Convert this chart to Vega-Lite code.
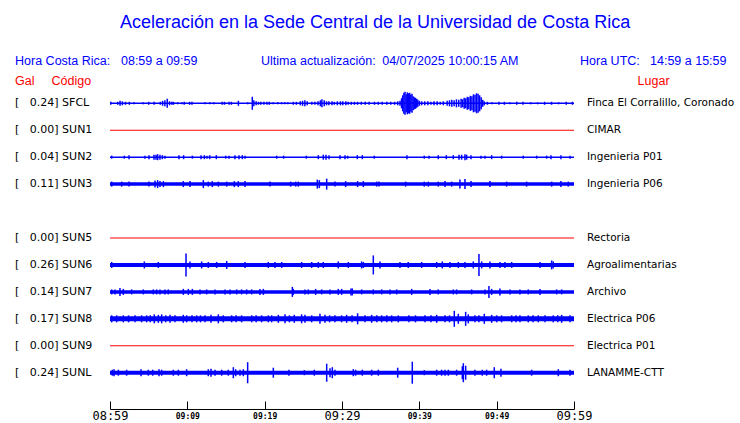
{
  "$schema": "https://vega.github.io/schema/vega-lite/v6.json",
  "width": 464,
  "height": 409,
  "autosize": {"type": "none"},
  "padding": {"left": 110, "right": 166, "top": 0, "bottom": 14},
  "background": "white",
  "config": {"view": {"stroke": null}, "font": "Liberation Sans"},
  "datasets": {
    "estaciones": [
      {"est": "SFCL", "fila": 0, "gal": 0.24, "lugar": "Finca El Corralillo, Coronado", "ruido": 0.6},
      {"est": "SUN1", "fila": 1, "gal": 0.00, "lugar": "CIMAR", "ruido": 0},
      {"est": "SUN2", "fila": 2, "gal": 0.04, "lugar": "Ingenieria P01", "ruido": 0.5},
      {"est": "SUN3", "fila": 3, "gal": 0.11, "lugar": "Ingenieria P06", "ruido": 2.5},
      {"est": "SUN5", "fila": 5, "gal": 0.00, "lugar": "Rectoria", "ruido": 0},
      {"est": "SUN6", "fila": 6, "gal": 0.26, "lugar": "Agroalimentarias", "ruido": 3},
      {"est": "SUN7", "fila": 7, "gal": 0.14, "lugar": "Archivo", "ruido": 2.5},
      {"est": "SUN8", "fila": 8, "gal": 0.17, "lugar": "Electrica P06", "ruido": 4},
      {"est": "SUN9", "fila": 9, "gal": 0.00, "lugar": "Electrica P01", "ruido": 0},
      {"est": "SUNL", "fila": 10, "gal": 0.24, "lugar": "LANAMME-CTT", "ruido": 3}
    ],
    "eventos": [
      {"est": "SFCL", "min": 0.1, "amp": 3}, {"est": "SFCL", "min": 1.0, "amp": 3}, {"est": "SFCL", "min": 1.3, "amp": 5}, {"est": "SFCL", "min": 1.6, "amp": 4},
      {"est": "SFCL", "min": 2.0, "amp": 3}, {"est": "SFCL", "min": 2.5, "amp": 3}, {"est": "SFCL", "min": 3.1, "amp": 2}, {"est": "SFCL", "min": 4.3, "amp": 2},
      {"est": "SFCL", "min": 5.0, "amp": 3}, {"est": "SFCL", "min": 5.7, "amp": 3}, {"est": "SFCL", "min": 6.5, "amp": 3}, {"est": "SFCL", "min": 6.8, "amp": 5},
      {"est": "SFCL", "min": 7.1, "amp": 6}, {"est": "SFCL", "min": 7.4, "amp": 9}, {"est": "SFCL", "min": 7.7, "amp": 4}, {"est": "SFCL", "min": 8.0, "amp": 3},
      {"est": "SFCL", "min": 8.2, "amp": 3}, {"est": "SFCL", "min": 8.75, "amp": 2}, {"est": "SFCL", "min": 9.3, "amp": 2}, {"est": "SFCL", "min": 9.6, "amp": 3},
      {"est": "SFCL", "min": 10.3, "amp": 3}, {"est": "SFCL", "min": 10.6, "amp": 3}, {"est": "SFCL", "min": 12.3, "amp": 2}, {"est": "SFCL", "min": 12.9, "amp": 2},
      {"est": "SFCL", "min": 13.4, "amp": 2}, {"est": "SFCL", "min": 14.5, "amp": 3}, {"est": "SFCL", "min": 14.8, "amp": 3}, {"est": "SFCL", "min": 15.4, "amp": 3},
      {"est": "SFCL", "min": 15.7, "amp": 3}, {"est": "SFCL", "min": 16.6, "amp": 5}, {"est": "SFCL", "min": 17.8, "amp": 2}, {"est": "SFCL", "min": 18.4, "amp": 13},
      {"est": "SFCL", "min": 18.6, "amp": 6}, {"est": "SFCL", "min": 18.9, "amp": 4}, {"est": "SFCL", "min": 19.2, "amp": 3}, {"est": "SFCL", "min": 19.5, "amp": 3},
      {"est": "SFCL", "min": 19.9, "amp": 3}, {"est": "SFCL", "min": 20.3, "amp": 3}, {"est": "SFCL", "min": 20.6, "amp": 3}, {"est": "SFCL", "min": 21.1, "amp": 2},
      {"est": "SFCL", "min": 21.7, "amp": 2}, {"est": "SFCL", "min": 22.2, "amp": 2}, {"est": "SFCL", "min": 22.6, "amp": 2}, {"est": "SFCL", "min": 23.0, "amp": 2},
      {"est": "SFCL", "min": 23.7, "amp": 3}, {"est": "SFCL", "min": 24.1, "amp": 3}, {"est": "SFCL", "min": 24.6, "amp": 4}, {"est": "SFCL", "min": 24.9, "amp": 5},
      {"est": "SFCL", "min": 25.2, "amp": 6}, {"est": "SFCL", "min": 25.5, "amp": 4}, {"est": "SFCL", "min": 26.1, "amp": 3}, {"est": "SFCL", "min": 26.5, "amp": 3},
      {"est": "SFCL", "min": 26.9, "amp": 4}, {"est": "SFCL", "min": 27.2, "amp": 6}, {"est": "SFCL", "min": 27.4, "amp": 8}, {"est": "SFCL", "min": 27.7, "amp": 6},
      {"est": "SFCL", "min": 28.0, "amp": 4}, {"est": "SFCL", "min": 28.3, "amp": 4}, {"est": "SFCL", "min": 28.7, "amp": 4}, {"est": "SFCL", "min": 29.0, "amp": 3},
      {"est": "SFCL", "min": 29.4, "amp": 4}, {"est": "SFCL", "min": 29.8, "amp": 4}, {"est": "SFCL", "min": 30.1, "amp": 4}, {"est": "SFCL", "min": 30.5, "amp": 4},
      {"est": "SFCL", "min": 30.8, "amp": 3}, {"est": "SFCL", "min": 31.2, "amp": 3}, {"est": "SFCL", "min": 31.6, "amp": 3}, {"est": "SFCL", "min": 32.0, "amp": 3},
      {"est": "SFCL", "min": 32.5, "amp": 3}, {"est": "SFCL", "min": 33.0, "amp": 3}, {"est": "SFCL", "min": 33.5, "amp": 3}, {"est": "SFCL", "min": 34.2, "amp": 3},
      {"est": "SFCL", "min": 34.7, "amp": 3}, {"est": "SFCL", "min": 35.2, "amp": 3}, {"est": "SFCL", "min": 35.8, "amp": 3}, {"est": "SFCL", "min": 36.3, "amp": 3},
      {"est": "SFCL", "min": 36.8, "amp": 3}, {"est": "SFCL", "min": 37.2, "amp": 4}, {"est": "SFCL", "min": 37.5, "amp": 5}, {"est": "SFCL", "min": 37.7, "amp": 10},
      {"est": "SFCL", "min": 37.85, "amp": 16}, {"est": "SFCL", "min": 38.0, "amp": 21}, {"est": "SFCL", "min": 38.15, "amp": 23}, {"est": "SFCL", "min": 38.3, "amp": 18},
      {"est": "SFCL", "min": 38.45, "amp": 22}, {"est": "SFCL", "min": 38.6, "amp": 20}, {"est": "SFCL", "min": 38.75, "amp": 21}, {"est": "SFCL", "min": 38.9, "amp": 17},
      {"est": "SFCL", "min": 39.05, "amp": 19}, {"est": "SFCL", "min": 39.2, "amp": 14}, {"est": "SFCL", "min": 39.35, "amp": 12}, {"est": "SFCL", "min": 39.5, "amp": 11},
      {"est": "SFCL", "min": 39.65, "amp": 9}, {"est": "SFCL", "min": 39.8, "amp": 7}, {"est": "SFCL", "min": 40.0, "amp": 5}, {"est": "SFCL", "min": 40.3, "amp": 4},
      {"est": "SFCL", "min": 40.7, "amp": 4}, {"est": "SFCL", "min": 41.1, "amp": 4}, {"est": "SFCL", "min": 41.5, "amp": 3}, {"est": "SFCL", "min": 41.9, "amp": 4},
      {"est": "SFCL", "min": 42.3, "amp": 4}, {"est": "SFCL", "min": 42.7, "amp": 3}, {"est": "SFCL", "min": 43.1, "amp": 4}, {"est": "SFCL", "min": 43.6, "amp": 5},
      {"est": "SFCL", "min": 43.9, "amp": 6}, {"est": "SFCL", "min": 44.2, "amp": 7}, {"est": "SFCL", "min": 44.5, "amp": 6}, {"est": "SFCL", "min": 44.8, "amp": 8},
      {"est": "SFCL", "min": 45.1, "amp": 7}, {"est": "SFCL", "min": 45.4, "amp": 9}, {"est": "SFCL", "min": 45.6, "amp": 8}, {"est": "SFCL", "min": 45.8, "amp": 11},
      {"est": "SFCL", "min": 46.0, "amp": 10}, {"est": "SFCL", "min": 46.2, "amp": 13}, {"est": "SFCL", "min": 46.4, "amp": 12}, {"est": "SFCL", "min": 46.6, "amp": 15},
      {"est": "SFCL", "min": 46.8, "amp": 14}, {"est": "SFCL", "min": 47.0, "amp": 18}, {"est": "SFCL", "min": 47.2, "amp": 17}, {"est": "SFCL", "min": 47.4, "amp": 20},
      {"est": "SFCL", "min": 47.6, "amp": 19}, {"est": "SFCL", "min": 47.8, "amp": 16}, {"est": "SFCL", "min": 48.0, "amp": 12}, {"est": "SFCL", "min": 48.2, "amp": 7},
      {"est": "SFCL", "min": 48.4, "amp": 4}, {"est": "SFCL", "min": 48.8, "amp": 3}, {"est": "SFCL", "min": 49.4, "amp": 2}, {"est": "SFCL", "min": 50.3, "amp": 3},
      {"est": "SFCL", "min": 51.0, "amp": 3}, {"est": "SFCL", "min": 51.7, "amp": 2}, {"est": "SFCL", "min": 52.6, "amp": 3}, {"est": "SFCL", "min": 53.4, "amp": 3},
      {"est": "SFCL", "min": 54.4, "amp": 2}, {"est": "SFCL", "min": 55.3, "amp": 2}, {"est": "SFCL", "min": 56.2, "amp": 3}, {"est": "SFCL", "min": 57.1, "amp": 3},
      {"est": "SFCL", "min": 58.0, "amp": 2}, {"est": "SFCL", "min": 59.0, "amp": 3}, {"est": "SFCL", "min": 59.8, "amp": 3},

      {"est": "SUN2", "min": 0.22, "amp": 3}, {"est": "SUN2", "min": 1.85, "amp": 3}, {"est": "SUN2", "min": 2.46, "amp": 4}, {"est": "SUN2", "min": 4.52, "amp": 3},
      {"est": "SUN2", "min": 5.04, "amp": 4}, {"est": "SUN2", "min": 5.69, "amp": 5}, {"est": "SUN2", "min": 5.95, "amp": 5}, {"est": "SUN2", "min": 6.16, "amp": 6},
      {"est": "SUN2", "min": 6.46, "amp": 5}, {"est": "SUN2", "min": 6.77, "amp": 4}, {"est": "SUN2", "min": 7.11, "amp": 3}, {"est": "SUN2", "min": 8.92, "amp": 4},
      {"est": "SUN2", "min": 9.52, "amp": 4}, {"est": "SUN2", "min": 10.65, "amp": 3}, {"est": "SUN2", "min": 11.77, "amp": 4}, {"est": "SUN2", "min": 12.2, "amp": 4},
      {"est": "SUN2", "min": 12.54, "amp": 3}, {"est": "SUN2", "min": 12.89, "amp": 4}, {"est": "SUN2", "min": 13.75, "amp": 4}, {"est": "SUN2", "min": 14.96, "amp": 3},
      {"est": "SUN2", "min": 15.39, "amp": 3}, {"est": "SUN2", "min": 16.16, "amp": 4}, {"est": "SUN2", "min": 16.68, "amp": 4}, {"est": "SUN2", "min": 17.11, "amp": 4},
      {"est": "SUN2", "min": 17.46, "amp": 3}, {"est": "SUN2", "min": 21.55, "amp": 3}, {"est": "SUN2", "min": 22.45, "amp": 3}, {"est": "SUN2", "min": 25.39, "amp": 3},
      {"est": "SUN2", "min": 26.94, "amp": 4}, {"est": "SUN2", "min": 27.58, "amp": 5}, {"est": "SUN2", "min": 27.93, "amp": 5}, {"est": "SUN2", "min": 28.32, "amp": 4},
      {"est": "SUN2", "min": 29.74, "amp": 4}, {"est": "SUN2", "min": 30.39, "amp": 4}, {"est": "SUN2", "min": 30.73, "amp": 3}, {"est": "SUN2", "min": 31.98, "amp": 4},
      {"est": "SUN2", "min": 32.63, "amp": 4}, {"est": "SUN2", "min": 34.18, "amp": 3}, {"est": "SUN2", "min": 38.4, "amp": 4}, {"est": "SUN2", "min": 40.64, "amp": 3},
      {"est": "SUN2", "min": 41.25, "amp": 3}, {"est": "SUN2", "min": 42.45, "amp": 4}, {"est": "SUN2", "min": 43.49, "amp": 4}, {"est": "SUN2", "min": 44.39, "amp": 4},
      {"est": "SUN2", "min": 45.13, "amp": 5}, {"est": "SUN2", "min": 45.47, "amp": 5}, {"est": "SUN2", "min": 45.9, "amp": 6}, {"est": "SUN2", "min": 46.12, "amp": 5},
      {"est": "SUN2", "min": 46.68, "amp": 4}, {"est": "SUN2", "min": 47.97, "amp": 3}, {"est": "SUN2", "min": 48.49, "amp": 3}, {"est": "SUN2", "min": 49.35, "amp": 4},
      {"est": "SUN2", "min": 50.64, "amp": 3}, {"est": "SUN2", "min": 53.44, "amp": 3}, {"est": "SUN2", "min": 55.17, "amp": 3}, {"est": "SUN2", "min": 56.46, "amp": 3},
      {"est": "SUN2", "min": 57.02, "amp": 4}, {"est": "SUN2", "min": 58.31, "amp": 4}, {"est": "SUN2", "min": 59.48, "amp": 3},

      {"est": "SUN3", "min": 0.22, "amp": 5}, {"est": "SUN3", "min": 1.51, "amp": 5}, {"est": "SUN3", "min": 2.46, "amp": 5}, {"est": "SUN3", "min": 5.04, "amp": 5},
      {"est": "SUN3", "min": 5.82, "amp": 7}, {"est": "SUN3", "min": 6.16, "amp": 8}, {"est": "SUN3", "min": 6.46, "amp": 6}, {"est": "SUN3", "min": 6.9, "amp": 6},
      {"est": "SUN3", "min": 9.48, "amp": 6}, {"est": "SUN3", "min": 10.34, "amp": 6}, {"est": "SUN3", "min": 12.07, "amp": 8}, {"est": "SUN3", "min": 12.71, "amp": 5},
      {"est": "SUN3", "min": 13.23, "amp": 6}, {"est": "SUN3", "min": 14.01, "amp": 5}, {"est": "SUN3", "min": 15.09, "amp": 5}, {"est": "SUN3", "min": 16.08, "amp": 6},
      {"est": "SUN3", "min": 16.59, "amp": 6}, {"est": "SUN3", "min": 17.46, "amp": 6}, {"est": "SUN3", "min": 20.69, "amp": 5}, {"est": "SUN3", "min": 23.36, "amp": 5},
      {"est": "SUN3", "min": 24.01, "amp": 5}, {"est": "SUN3", "min": 24.35, "amp": 5}, {"est": "SUN3", "min": 26.81, "amp": 9}, {"est": "SUN3", "min": 27.07, "amp": 8},
      {"est": "SUN3", "min": 28.02, "amp": 11}, {"est": "SUN3", "min": 29.09, "amp": 5}, {"est": "SUN3", "min": 30.47, "amp": 6}, {"est": "SUN3", "min": 32.02, "amp": 6},
      {"est": "SUN3", "min": 32.76, "amp": 6}, {"est": "SUN3", "min": 34.48, "amp": 5}, {"est": "SUN3", "min": 34.78, "amp": 5}, {"est": "SUN3", "min": 38.23, "amp": 5},
      {"est": "SUN3", "min": 40.64, "amp": 5}, {"est": "SUN3", "min": 41.16, "amp": 5}, {"est": "SUN3", "min": 42.45, "amp": 5}, {"est": "SUN3", "min": 43.32, "amp": 6},
      {"est": "SUN3", "min": 44.18, "amp": 5}, {"est": "SUN3", "min": 45.25, "amp": 9}, {"est": "SUN3", "min": 45.9, "amp": 10}, {"est": "SUN3", "min": 46.68, "amp": 6},
      {"est": "SUN3", "min": 49.13, "amp": 6}, {"est": "SUN3", "min": 51.29, "amp": 5}, {"est": "SUN3", "min": 53.87, "amp": 5}, {"est": "SUN3", "min": 57.11, "amp": 5},
      {"est": "SUN3", "min": 58.31, "amp": 6}, {"est": "SUN3", "min": 59.26, "amp": 5},

      {"est": "SUN6", "min": 0.22, "amp": 6}, {"est": "SUN6", "min": 4.44, "amp": 7}, {"est": "SUN6", "min": 6.25, "amp": 6}, {"est": "SUN6", "min": 9.83, "amp": 23},
      {"est": "SUN6", "min": 10.34, "amp": 7}, {"est": "SUN6", "min": 11.85, "amp": 7}, {"est": "SUN6", "min": 12.71, "amp": 6}, {"est": "SUN6", "min": 13.79, "amp": 6},
      {"est": "SUN6", "min": 15.09, "amp": 8}, {"est": "SUN6", "min": 17.46, "amp": 6}, {"est": "SUN6", "min": 20.47, "amp": 6}, {"est": "SUN6", "min": 21.33, "amp": 6},
      {"est": "SUN6", "min": 22.2, "amp": 6}, {"est": "SUN6", "min": 24.78, "amp": 6}, {"est": "SUN6", "min": 26.08, "amp": 6}, {"est": "SUN6", "min": 26.94, "amp": 6},
      {"est": "SUN6", "min": 27.58, "amp": 6}, {"est": "SUN6", "min": 29.52, "amp": 7}, {"est": "SUN6", "min": 30.82, "amp": 6}, {"est": "SUN6", "min": 32.54, "amp": 7},
      {"est": "SUN6", "min": 32.76, "amp": 6}, {"est": "SUN6", "min": 34.05, "amp": 19}, {"est": "SUN6", "min": 34.91, "amp": 7}, {"est": "SUN6", "min": 37.5, "amp": 6},
      {"est": "SUN6", "min": 38.57, "amp": 6}, {"est": "SUN6", "min": 40.3, "amp": 6}, {"est": "SUN6", "min": 42.24, "amp": 6}, {"est": "SUN6", "min": 42.97, "amp": 7},
      {"est": "SUN6", "min": 43.96, "amp": 6}, {"est": "SUN6", "min": 45.04, "amp": 6}, {"est": "SUN6", "min": 45.9, "amp": 6}, {"est": "SUN6", "min": 46.98, "amp": 7},
      {"est": "SUN6", "min": 47.71, "amp": 22}, {"est": "SUN6", "min": 48.06, "amp": 7}, {"est": "SUN6", "min": 49.13, "amp": 7}, {"est": "SUN6", "min": 50.42, "amp": 6},
      {"est": "SUN6", "min": 51.07, "amp": 6}, {"est": "SUN6", "min": 51.94, "amp": 6}, {"est": "SUN6", "min": 55.6, "amp": 6}, {"est": "SUN6", "min": 57.11, "amp": 9},
      {"est": "SUN6", "min": 57.32, "amp": 7},

      {"est": "SUN7", "min": 0.22, "amp": 5}, {"est": "SUN7", "min": 0.65, "amp": 5}, {"est": "SUN7", "min": 1.29, "amp": 8}, {"est": "SUN7", "min": 1.72, "amp": 6},
      {"est": "SUN7", "min": 2.8, "amp": 5}, {"est": "SUN7", "min": 4.31, "amp": 5}, {"est": "SUN7", "min": 5.6, "amp": 5}, {"est": "SUN7", "min": 6.03, "amp": 5},
      {"est": "SUN7", "min": 6.46, "amp": 5}, {"est": "SUN7", "min": 7.11, "amp": 5}, {"est": "SUN7", "min": 7.54, "amp": 5}, {"est": "SUN7", "min": 9.48, "amp": 6},
      {"est": "SUN7", "min": 10.13, "amp": 6}, {"est": "SUN7", "min": 10.65, "amp": 6}, {"est": "SUN7", "min": 11.64, "amp": 5}, {"est": "SUN7", "min": 12.5, "amp": 5},
      {"est": "SUN7", "min": 13.58, "amp": 5}, {"est": "SUN7", "min": 14.87, "amp": 5}, {"est": "SUN7", "min": 15.52, "amp": 5}, {"est": "SUN7", "min": 16.38, "amp": 5},
      {"est": "SUN7", "min": 17.02, "amp": 5}, {"est": "SUN7", "min": 17.67, "amp": 5}, {"est": "SUN7", "min": 18.32, "amp": 5}, {"est": "SUN7", "min": 19.39, "amp": 6},
      {"est": "SUN7", "min": 19.83, "amp": 6}, {"est": "SUN7", "min": 23.58, "amp": 10}, {"est": "SUN7", "min": 23.7, "amp": 6}, {"est": "SUN7", "min": 25.21, "amp": 5},
      {"est": "SUN7", "min": 25.64, "amp": 5}, {"est": "SUN7", "min": 26.59, "amp": 6}, {"est": "SUN7", "min": 27.37, "amp": 5}, {"est": "SUN7", "min": 28.45, "amp": 5},
      {"est": "SUN7", "min": 29.52, "amp": 6}, {"est": "SUN7", "min": 29.95, "amp": 6}, {"est": "SUN7", "min": 31.16, "amp": 7}, {"est": "SUN7", "min": 31.33, "amp": 7},
      {"est": "SUN7", "min": 32.54, "amp": 5}, {"est": "SUN7", "min": 34.05, "amp": 5}, {"est": "SUN7", "min": 35.13, "amp": 5}, {"est": "SUN7", "min": 36.2, "amp": 5},
      {"est": "SUN7", "min": 37.07, "amp": 5}, {"est": "SUN7", "min": 39.01, "amp": 6}, {"est": "SUN7", "min": 41.38, "amp": 6}, {"est": "SUN7", "min": 42.45, "amp": 5},
      {"est": "SUN7", "min": 44.39, "amp": 5}, {"est": "SUN7", "min": 44.82, "amp": 5}, {"est": "SUN7", "min": 46.76, "amp": 5}, {"est": "SUN7", "min": 48.49, "amp": 5},
      {"est": "SUN7", "min": 49.0, "amp": 12}, {"est": "SUN7", "min": 49.35, "amp": 6}, {"est": "SUN7", "min": 50.42, "amp": 7}, {"est": "SUN7", "min": 51.72, "amp": 5},
      {"est": "SUN7", "min": 53.01, "amp": 5}, {"est": "SUN7", "min": 54.09, "amp": 5}, {"est": "SUN7", "min": 55.6, "amp": 6}, {"est": "SUN7", "min": 57.75, "amp": 5},
      {"est": "SUN7", "min": 58.4, "amp": 5},

      {"est": "SUN8", "min": 0.22, "amp": 7}, {"est": "SUN8", "min": 0.86, "amp": 7}, {"est": "SUN8", "min": 1.72, "amp": 7}, {"est": "SUN8", "min": 2.4, "amp": 7},
      {"est": "SUN8", "min": 3.23, "amp": 7}, {"est": "SUN8", "min": 4.09, "amp": 7}, {"est": "SUN8", "min": 4.74, "amp": 7}, {"est": "SUN8", "min": 5.2, "amp": 7},
      {"est": "SUN8", "min": 5.73, "amp": 9}, {"est": "SUN8", "min": 6.25, "amp": 8}, {"est": "SUN8", "min": 6.68, "amp": 9}, {"est": "SUN8", "min": 7.2, "amp": 7},
      {"est": "SUN8", "min": 7.76, "amp": 8}, {"est": "SUN8", "min": 8.4, "amp": 7}, {"est": "SUN8", "min": 9.48, "amp": 8}, {"est": "SUN8", "min": 9.91, "amp": 7},
      {"est": "SUN8", "min": 10.6, "amp": 7}, {"est": "SUN8", "min": 11.21, "amp": 7}, {"est": "SUN8", "min": 11.7, "amp": 7}, {"est": "SUN8", "min": 12.28, "amp": 7},
      {"est": "SUN8", "min": 13.06, "amp": 8}, {"est": "SUN8", "min": 14.01, "amp": 9}, {"est": "SUN8", "min": 14.65, "amp": 7}, {"est": "SUN8", "min": 15.73, "amp": 7},
      {"est": "SUN8", "min": 16.3, "amp": 7}, {"est": "SUN8", "min": 17.02, "amp": 7}, {"est": "SUN8", "min": 18.32, "amp": 7}, {"est": "SUN8", "min": 18.9, "amp": 7},
      {"est": "SUN8", "min": 19.61, "amp": 7}, {"est": "SUN8", "min": 20.47, "amp": 7}, {"est": "SUN8", "min": 20.9, "amp": 7}, {"est": "SUN8", "min": 21.77, "amp": 8},
      {"est": "SUN8", "min": 22.63, "amp": 9}, {"est": "SUN8", "min": 23.2, "amp": 7}, {"est": "SUN8", "min": 23.83, "amp": 8}, {"est": "SUN8", "min": 24.78, "amp": 9},
      {"est": "SUN8", "min": 25.21, "amp": 8}, {"est": "SUN8", "min": 26.08, "amp": 7}, {"est": "SUN8", "min": 27.15, "amp": 10}, {"est": "SUN8", "min": 27.8, "amp": 8},
      {"est": "SUN8", "min": 28.4, "amp": 7}, {"est": "SUN8", "min": 29.09, "amp": 7}, {"est": "SUN8", "min": 29.95, "amp": 7}, {"est": "SUN8", "min": 30.6, "amp": 8},
      {"est": "SUN8", "min": 31.3, "amp": 7}, {"est": "SUN8", "min": 32.02, "amp": 11}, {"est": "SUN8", "min": 32.97, "amp": 7}, {"est": "SUN8", "min": 33.83, "amp": 8},
      {"est": "SUN8", "min": 34.5, "amp": 7}, {"est": "SUN8", "min": 35.13, "amp": 7}, {"est": "SUN8", "min": 35.8, "amp": 7}, {"est": "SUN8", "min": 36.42, "amp": 7},
      {"est": "SUN8", "min": 37.28, "amp": 7}, {"est": "SUN8", "min": 38.66, "amp": 7}, {"est": "SUN8", "min": 39.5, "amp": 7}, {"est": "SUN8", "min": 40.73, "amp": 7},
      {"est": "SUN8", "min": 41.5, "amp": 7}, {"est": "SUN8", "min": 42.24, "amp": 8}, {"est": "SUN8", "min": 43.32, "amp": 7}, {"est": "SUN8", "min": 43.9, "amp": 7},
      {"est": "SUN8", "min": 44.52, "amp": 16}, {"est": "SUN8", "min": 45.04, "amp": 10}, {"est": "SUN8", "min": 45.99, "amp": 14}, {"est": "SUN8", "min": 46.33, "amp": 9},
      {"est": "SUN8", "min": 47.19, "amp": 7}, {"est": "SUN8", "min": 47.7, "amp": 7}, {"est": "SUN8", "min": 48.4, "amp": 10}, {"est": "SUN8", "min": 49.35, "amp": 8},
      {"est": "SUN8", "min": 50.0, "amp": 7}, {"est": "SUN8", "min": 50.64, "amp": 7}, {"est": "SUN8", "min": 51.94, "amp": 7}, {"est": "SUN8", "min": 52.5, "amp": 7},
      {"est": "SUN8", "min": 53.01, "amp": 7}, {"est": "SUN8", "min": 54.09, "amp": 7}, {"est": "SUN8", "min": 54.7, "amp": 7}, {"est": "SUN8", "min": 55.38, "amp": 7},
      {"est": "SUN8", "min": 56.25, "amp": 7}, {"est": "SUN8", "min": 57.32, "amp": 7}, {"est": "SUN8", "min": 57.9, "amp": 7}, {"est": "SUN8", "min": 58.4, "amp": 8},
      {"est": "SUN8", "min": 59.48, "amp": 7},

      {"est": "SUNL", "min": 0.3, "amp": 6}, {"est": "SUNL", "min": 0.52, "amp": 7}, {"est": "SUNL", "min": 1.08, "amp": 6}, {"est": "SUNL", "min": 2.15, "amp": 6},
      {"est": "SUNL", "min": 4.01, "amp": 7}, {"est": "SUNL", "min": 4.96, "amp": 6}, {"est": "SUNL", "min": 5.52, "amp": 6}, {"est": "SUNL", "min": 6.34, "amp": 7},
      {"est": "SUNL", "min": 6.68, "amp": 6}, {"est": "SUNL", "min": 8.19, "amp": 6}, {"est": "SUNL", "min": 8.84, "amp": 6}, {"est": "SUNL", "min": 9.91, "amp": 7},
      {"est": "SUNL", "min": 12.71, "amp": 7}, {"est": "SUNL", "min": 13.06, "amp": 8}, {"est": "SUNL", "min": 13.58, "amp": 6}, {"est": "SUNL", "min": 14.44, "amp": 6},
      {"est": "SUNL", "min": 15.3, "amp": 6}, {"est": "SUNL", "min": 15.95, "amp": 11}, {"est": "SUNL", "min": 16.25, "amp": 7}, {"est": "SUNL", "min": 16.81, "amp": 6},
      {"est": "SUNL", "min": 17.24, "amp": 7}, {"est": "SUNL", "min": 17.8, "amp": 21}, {"est": "SUNL", "min": 21.12, "amp": 10}, {"est": "SUNL", "min": 23.14, "amp": 6},
      {"est": "SUNL", "min": 25.13, "amp": 5}, {"est": "SUNL", "min": 26.42, "amp": 6}, {"est": "SUNL", "min": 28.02, "amp": 18}, {"est": "SUNL", "min": 28.45, "amp": 9},
      {"est": "SUNL", "min": 28.75, "amp": 11}, {"est": "SUNL", "min": 29.09, "amp": 6}, {"est": "SUNL", "min": 31.46, "amp": 7}, {"est": "SUNL", "min": 31.76, "amp": 6},
      {"est": "SUNL", "min": 32.63, "amp": 6}, {"est": "SUNL", "min": 33.83, "amp": 6}, {"est": "SUNL", "min": 34.7, "amp": 6}, {"est": "SUNL", "min": 37.2, "amp": 10},
      {"est": "SUNL", "min": 39.09, "amp": 22}, {"est": "SUNL", "min": 40.64, "amp": 5}, {"est": "SUNL", "min": 42.24, "amp": 6}, {"est": "SUNL", "min": 42.88, "amp": 6},
      {"est": "SUNL", "min": 43.32, "amp": 6}, {"est": "SUNL", "min": 43.75, "amp": 6}, {"est": "SUNL", "min": 44.82, "amp": 6}, {"est": "SUNL", "min": 45.56, "amp": 13},
      {"est": "SUNL", "min": 45.69, "amp": 19}, {"est": "SUNL", "min": 45.99, "amp": 14}, {"est": "SUNL", "min": 47.19, "amp": 6}, {"est": "SUNL", "min": 48.14, "amp": 6},
      {"est": "SUNL", "min": 48.7, "amp": 6}, {"est": "SUNL", "min": 49.69, "amp": 11}, {"est": "SUNL", "min": 50.55, "amp": 8}, {"est": "SUNL", "min": 54.52, "amp": 6},
      {"est": "SUNL", "min": 57.97, "amp": 7}, {"est": "SUNL", "min": 59.48, "amp": 6}
    ]
  },
  "layer": [
    {
      "data": {"name": "estaciones"},
      "mark": {"type": "rule"},
      "encoding": {
        "x": {"datum": 0, "type": "quantitative", "scale": {"domain": [0, 60], "nice": false, "zero": false},
          "axis": {
            "values": [0, 5, 10, 15, 20, 25, 30, 35, 40, 45, 50, 55, 60],
            "labelExpr": "datum.value % 10 == 0 ? timeFormat(datetime(2025, 3, 7, 8, 59 + datum.value), '%H:%M') : ''",
            "labelFont": "DejaVu Sans Mono",
            "labelFontSize": {"condition": {"test": "datum.value % 30 == 0", "value": 12}, "value": 8},
            "labelFontWeight": {"condition": {"test": "datum.value % 30 == 0", "value": "normal"}, "value": "bold"},
            "labelPadding": {"condition": {"test": "datum.value % 30 == 0", "value": 9}, "value": 11},
            "labelColor": "black",
            "labelBaseline": "top",
            "labelOverlap": false,
            "labelFlush": false,
            "labelBound": false,
            "tickSize": -8,
            "tickColor": "black",
            "domainColor": "black",
            "grid": false,
            "title": null
          }
        },
        "x2": {"datum": 60},
        "y": {"field": "fila", "type": "quantitative", "scale": {"domain": [-3.834, 11.347], "reverse": true, "nice": false, "zero": false}, "axis": null},
        "color": {"condition": {"test": "datum.gal == 0", "value": "#ff0000"}, "value": "#0000ff"},
        "strokeWidth": {"field": "ruido", "type": "quantitative", "scale": {"domain": [0, 5], "range": [1, 6]}, "legend": null}
      }
    },
    {
      "data": {"name": "eventos"},
      "transform": [{"lookup": "est", "from": {"data": {"name": "estaciones"}, "key": "est", "fields": ["fila"]}}],
      "mark": {"type": "tick", "orient": "vertical", "thickness": 1.5, "color": "#0000ff", "opacity": 1},
      "encoding": {
        "x": {"field": "min", "type": "quantitative", "scale": {"domain": [0, 60], "nice": false, "zero": false}},
        "y": {"field": "fila", "type": "quantitative", "scale": {"domain": [-3.834, 11.347], "reverse": true, "nice": false, "zero": false}},
        "size": {"field": "amp", "type": "quantitative", "scale": {"domain": [0, 25], "range": [0, 25]}, "legend": null}
      }
    },
    {
      "data": {"name": "estaciones"},
      "transform": [{"calculate": "'[\u00a0\u00a0\u00a0' + format(datum.gal, '.2f') + ']\u00a0' + datum.est", "as": "etiqueta"}],
      "mark": {"type": "text", "align": "left", "baseline": "middle", "font": "DejaVu Sans", "fontSize": 11, "color": "black"},
      "encoding": {
        "x": {"datum": -12.28, "type": "quantitative"},
        "y": {"field": "fila", "type": "quantitative"},
        "text": {"field": "etiqueta"}
      }
    },
    {
      "data": {"name": "estaciones"},
      "mark": {"type": "text", "align": "left", "baseline": "middle", "font": "DejaVu Sans", "fontSize": 10.5, "color": "black"},
      "encoding": {
        "x": {"datum": 61.68, "type": "quantitative"},
        "y": {"field": "fila", "type": "quantitative"},
        "text": {"field": "lugar"}
      }
    },
    {
      "data": {"values": [{}]},
      "mark": {"type": "text", "align": "center", "baseline": "middle", "fontSize": 18, "color": "#0000ff", "text": "Aceleración en la Sede Central de la Universidad de Costa Rica"},
      "encoding": {"x": {"datum": 34.27, "type": "quantitative"}, "y": {"datum": -2.98, "type": "quantitative"}}
    },
    {
      "data": {"values": [{}]},
      "mark": {"type": "text", "align": "left", "baseline": "middle", "fontSize": 12.5, "color": "#0000ff", "text": "Hora Costa Rica:"},
      "encoding": {"x": {"datum": -12.28, "type": "quantitative"}, "y": {"datum": -1.57, "type": "quantitative"}}
    },
    {
      "data": {"values": [{}]},
      "mark": {"type": "text", "align": "left", "baseline": "middle", "fontSize": 12.5, "color": "#0000ff", "text": "08:59 a 09:59"},
      "encoding": {"x": {"datum": 1.42, "type": "quantitative"}, "y": {"datum": -1.57, "type": "quantitative"}}
    },
    {
      "data": {"values": [{}]},
      "mark": {"type": "text", "align": "left", "baseline": "middle", "fontSize": 12.5, "color": "#0000ff", "text": "Ultima actualización:"},
      "encoding": {"x": {"datum": 19.53, "type": "quantitative"}, "y": {"datum": -1.57, "type": "quantitative"}}
    },
    {
      "data": {"values": [{}]},
      "mark": {"type": "text", "align": "left", "baseline": "middle", "fontSize": 12.5, "color": "#0000ff", "text": "04/07/2025 10:00:15 AM"},
      "encoding": {"x": {"datum": 35.2, "type": "quantitative"}, "y": {"datum": -1.57, "type": "quantitative"}}
    },
    {
      "data": {"values": [{}]},
      "mark": {"type": "text", "align": "left", "baseline": "middle", "fontSize": 12.5, "color": "#0000ff", "text": "Hora UTC:"},
      "encoding": {"x": {"datum": 60.78, "type": "quantitative"}, "y": {"datum": -1.57, "type": "quantitative"}}
    },
    {
      "data": {"values": [{}]},
      "mark": {"type": "text", "align": "left", "baseline": "middle", "fontSize": 12.5, "color": "#0000ff", "text": "14:59 a 15:59"},
      "encoding": {"x": {"datum": 69.83, "type": "quantitative"}, "y": {"datum": -1.57, "type": "quantitative"}}
    },
    {
      "data": {"values": [{}]},
      "mark": {"type": "text", "align": "left", "baseline": "middle", "fontSize": 12.5, "color": "#ff0000", "text": "Gal"},
      "encoding": {"x": {"datum": -12.28, "type": "quantitative"}, "y": {"datum": -0.83, "type": "quantitative"}}
    },
    {
      "data": {"values": [{}]},
      "mark": {"type": "text", "align": "left", "baseline": "middle", "fontSize": 12.5, "color": "#ff0000", "text": "Código"},
      "encoding": {"x": {"datum": -7.56, "type": "quantitative"}, "y": {"datum": -0.83, "type": "quantitative"}}
    },
    {
      "data": {"values": [{}]},
      "mark": {"type": "text", "align": "left", "baseline": "middle", "fontSize": 12.5, "color": "#ff0000", "text": "Lugar"},
      "encoding": {"x": {"datum": 68.22, "type": "quantitative"}, "y": {"datum": -0.83, "type": "quantitative"}}
    }
  ]
}
